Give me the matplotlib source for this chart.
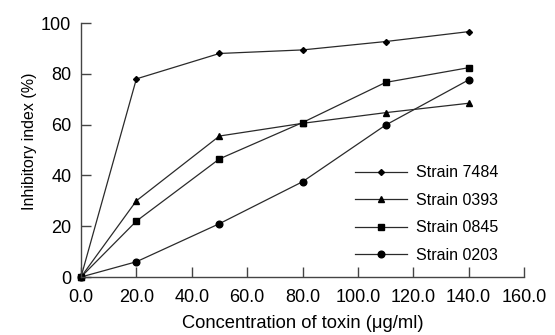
import matplotlib
matplotlib.use("Agg")
import matplotlib.pyplot as plt

conc = [0, 20, 50, 80, 110, 140]
s7484 = [0, 78, 88, 89.4, 92.7, 96.6]
s0393 = [0, 30, 55.5, 60.5, 64.7, 68.4]
s0845 = [0, 22, 46.5, 60.8, 76.6, 82.4]
s0203 = [0, 6, 21, 37.5, 59.8, 77.6]
labels = ["Strain 7484", "Strain 0393", "Strain 0845", "Strain 0203"]
xticks = [0, 20, 40, 60, 80, 100, 120, 140, 160]
yticks = [0, 20, 40, 60, 80, 100]

plt.rcParams['font.family'] = ['Liberation Sans', 'DejaVu Sans']
fig = plt.figure(figsize=(5.55, 3.35), dpi=100)
ax = fig.add_axes([81/555, 1 - 277/335, (524-81)/555, (277-23)/335])

col = '#2a2a2a'
series = [s7484, s0393, s0845, s0203]
markers = ['D', '^', 's', 'o']
msizes = [3, 4.8, 4.5, 4.8]
for ys, m, ms, lab in zip(series, markers, msizes, labels):
    ax.plot(conc, ys, color=col, lw=0.9, marker=m, ms=ms, mfc='black', mec='black', label=lab)

ax.set_xlim(0, 160)
ax.set_ylim(0, 100)
ax.set_xticks(xticks)
ax.set_xticklabels([f"{v:.1f}" for v in xticks])
ax.set_yticks(yticks)
ax.spines['top'].set_visible(False)
ax.spines['right'].set_visible(False)
for s in ['left', 'bottom']:
    ax.spines[s].set_color('#444444')
    ax.spines[s].set_linewidth(1.0)
ax.tick_params(axis='x', direction='in', length=7, width=1.0, labelsize=13, pad=9, color='#444444')
ax.tick_params(axis='y', direction='in', length=7, width=1.0, labelsize=13, pad=7, color='#444444')
ax.set_xlabel("Concentration of toxin (μg/ml)", fontsize=13.2, labelpad=6)
ax.set_ylabel("Inhibitory index (%)", fontsize=11.5, labelpad=3)
ax.yaxis.label.set_y(0.535)
for l in ax.lines:
    l.set_clip_on(False)

leg = ax.legend(loc='lower right', bbox_to_anchor=(0.975, 0.0), frameon=False, fontsize=11.5,
                handlelength=3.3, labelspacing=0.78, handletextpad=0.55)

fig.savefig("out.png", dpi=100)
